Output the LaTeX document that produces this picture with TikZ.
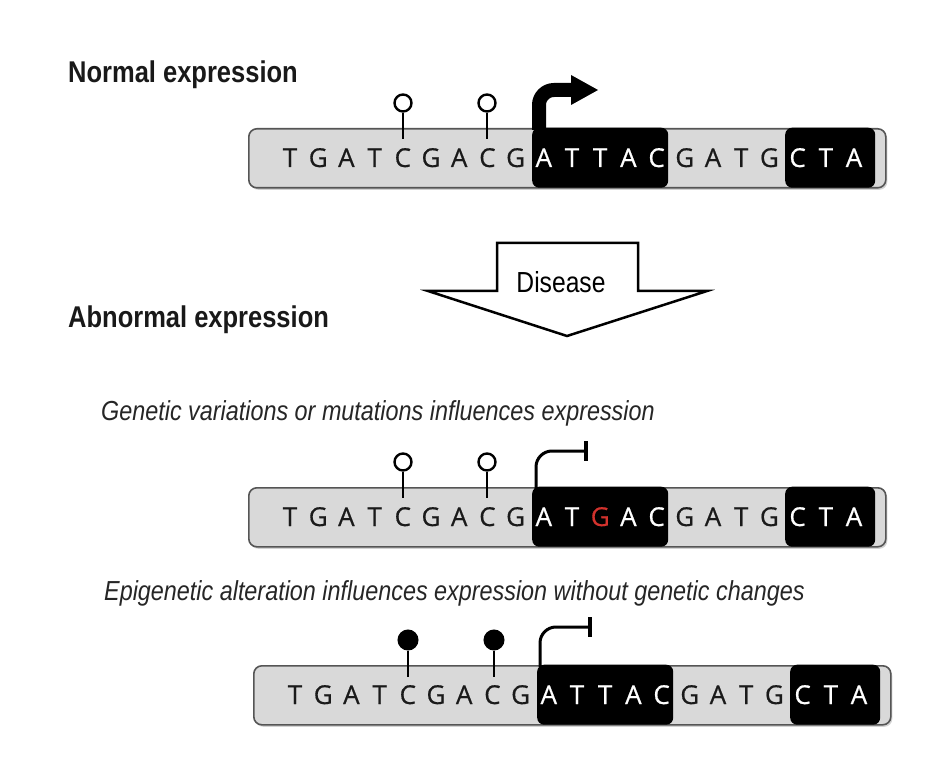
\documentclass[tikz,border=0pt]{standalone}
\usepackage{fontspec}
\setmainfont{Liberation Sans}
\newfontfamily\headfont[FakeStretch=0.85]{Liberation Sans}
\newfontfamily\seqfont[FakeBold=0.6]{Open Sans}
\usetikzlibrary{shadows}
\definecolor{boxgray}{HTML}{D9D9D9}
\definecolor{boxedge}{HTML}{555555}
\definecolor{seqdark}{HTML}{1A1A1A}
\definecolor{seqred}{HTML}{D2322D}
\tikzset{
  graybox/.style={draw=boxedge, line width=1.6pt, fill=boxgray, rounded corners=8pt,
    minimum width=637pt, minimum height=59pt, inner sep=0pt,
    drop shadow={shadow xshift=1.5pt, shadow yshift=-2pt, opacity=0.35}},
  blackbox/.style={fill=black, rounded corners=7pt, minimum height=60pt, inner sep=0pt},
  seqletter/.style={font=\seqfont\fontsize{26}{30}\selectfont, inner sep=0pt},
  heading/.style={font=\headfont\bfseries\fontsize{30}{36}\selectfont, inner sep=0pt, text=black!90},
  caption/.style={font=\headfont\itshape\fontsize{27.5}{32}\selectfont, inner sep=0pt, text=black!85},
  openmark/.style={circle, draw=black, line width=2.4pt, fill=white, minimum size=17pt, inner sep=0pt},
  fullmark/.style={circle, draw=black, line width=1pt, fill=black, minimum size=20pt, inner sep=0pt},
  stick/.style={line width=2.4pt, black},
  promthin/.style={line width=3pt, black},
}
\newcommand\dnastrip[5]{%
  \node[graybox, anchor=north west] (#1box) at (#2,#3) {};
  \node[blackbox, minimum width=136pt, anchor=north west] (#1bkA) at (#2+284,#3-0.5) {};
  \node[blackbox, minimum width=90pt, anchor=north west] (#1bkB) at (#2+537,#3-0.5) {};
  \foreach \l [count=\i from 0] in {#5} {
    \pgfmathtruncatemacro\inb{((\i>8)&&(\i<14))||(\i>17)}
    \ifnum\inb=1 \def\lcol{white}\else\def\lcol{seqdark}\fi
    \ifnum\i=#4 \def\lcol{seqred}\fi
    \node[seqletter, text=\lcol, anchor=base] (#1l\i) at (#2+42+\i*28.2, #3+39) {\l};
  }
}
\begin{document}
\begin{tikzpicture}[x=1pt, y=-1pt]
\useasboundingbox[fill=white] (0,0) rectangle (940,767);

% headings
\node[heading, anchor=base west] (hnorm) at (68,83) {Normal expression};
\node[heading, anchor=base west] (habn) at (68,328) {Abnormal expression};

% ---------- strip 1 ----------
\dnastrip{sA}{248}{128}{-1}{T,G,A,T,C,G,A,C,G,A,T,T,A,C,G,A,T,G,C,T,A}
\node[openmark] (sAm1) at (403,103) {};
\node[openmark] (sAm2) at (487,103) {};
\coordinate (sAm1b) at (403,139);
\coordinate (sAm2b) at (487,139);
\draw[stick] (sAm1.south) -- (sAm1b);
\draw[stick] (sAm2.south) -- (sAm2b);
\coordinate (sApA) at (539,130);
\coordinate (sApB) at (574,90);
\draw[line width=14pt, rounded corners=15pt] (sApA) |- (sApB);
\fill (571,75) -- (598,90) -- (571,105) -- cycle;

% ---------- disease arrow ----------
\node[font=\headfont\fontsize{29}{34}\selectfont, inner sep=0pt, anchor=base] (dis) at (561,293) {Disease};
\draw[line width=2.5pt, line join=miter] (497,243) -- (638,243) -- (638,291) -- (707,291)
   -- (567,336) -- (428,291) -- (497,291) -- cycle;

% ---------- strip 2 ----------
\node[caption, anchor=base west] (capA) at (101,420) {Genetic variations or mutations influences expression};
\dnastrip{sB}{248}{487}{11}{T,G,A,T,C,G,A,C,G,A,T,G,A,C,G,A,T,G,C,T,A}
\node[openmark] (sBm1) at (403,462) {};
\node[openmark] (sBm2) at (487,462) {};
\coordinate (sBm1b) at (403,498);
\coordinate (sBm2b) at (487,498);
\draw[stick] (sBm1.south) -- (sBm1b);
\draw[stick] (sBm2.south) -- (sBm2b);
\coordinate (sBpA) at (536,489);
\coordinate (sBpB) at (586,451);
\draw[promthin, rounded corners=16pt] (sBpA) |- (sBpB);
\draw[line width=3.5pt] (586,441) -- (586,461);

% ---------- strip 3 ----------
\node[caption, anchor=base west] (capB) at (104,600) {Epigenetic alteration influences expression without genetic changes};
\dnastrip{sC}{253}{665}{-1}{T,G,A,T,C,G,A,C,G,A,T,T,A,C,G,A,T,G,C,T,A}
\node[fullmark] (sCm1) at (408,640) {};
\node[fullmark] (sCm2) at (494,640) {};
\coordinate (sCm1b) at (408,677);
\coordinate (sCm2b) at (494,677);
\draw[stick] (sCm1.south) -- (sCm1b);
\draw[stick] (sCm2.south) -- (sCm2b);
\coordinate (sCpA) at (540,667);
\coordinate (sCpB) at (590,627);
\draw[promthin, rounded corners=16pt] (sCpA) |- (sCpB);
\draw[line width=3.5pt] (590,617) -- (590,637);
\end{tikzpicture}
\end{document}
